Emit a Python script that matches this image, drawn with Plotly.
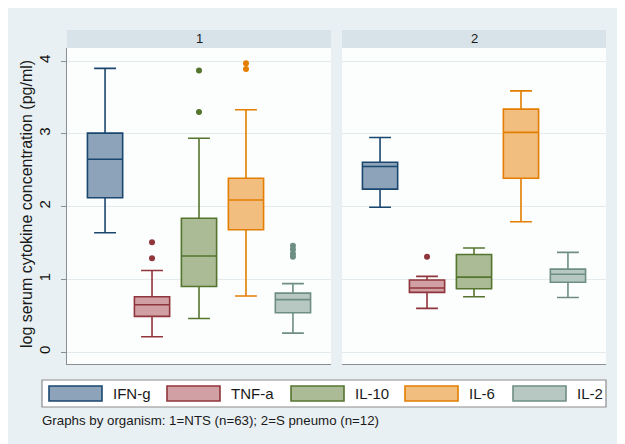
import plotly.graph_objects as go

# ---------------- data ----------------
cytokines = ["IFN-g", "TNF-a", "IL-10", "IL-6", "IL-2"]
panel_labels = ["1", "2"]
y_title = "log serum cytokine concentration (pg/ml)"
note_text = "Graphs by organism: 1=NTS (n=63); 2=S pneumo (n=12)"
y_ticks = [0, 1, 2, 3, 4]

# panel 1 : NTS
p1_lower = [1.64, 0.21, 0.46, 0.77, 0.26]
p1_q1 = [2.12, 0.49, 0.90, 1.68, 0.54]
p1_median = [2.65, 0.65, 1.32, 2.09, 0.72]
p1_q3 = [3.01, 0.76, 1.84, 2.39, 0.81]
p1_upper = [3.90, 1.12, 2.94, 3.33, 0.94]
p1_outliers = [[], [1.51, 1.29], [3.87, 3.30], [3.97, 3.89], [1.46, 1.41, 1.35, 1.31]]

# panel 2 : S pneumo
p2_lower = [1.99, 0.60, 0.76, 1.79, 0.75]
p2_q1 = [2.24, 0.82, 0.87, 2.39, 0.96]
p2_median = [2.55, 0.88, 1.03, 3.02, 1.07]
p2_q3 = [2.61, 0.99, 1.34, 3.34, 1.14]
p2_upper = [2.95, 1.04, 1.43, 3.59, 1.37]
p2_outliers = [[], [1.31], [], [], []]

# ---------------- style ----------------
line_colors = ["#1a476f", "#90353b", "#55752f", "#e37e00", "#6e8e84"]
fill_colors = ["#8ca3b9", "#d0a0a4", "#aabb96", "#f1be80", "#b7c8c2"]
BG = "#e9f0f3"
STRIP = "#d7e2e9"
GRID = "#e3ebee"
AXIS = "#8a8f93"
OFF = 8                     # page body margin
W, H = 625 - OFF, 444 - OFF


def px(x):
    return (x - OFF) / W


def py(y):
    return 1 - (y - OFF) / H


fig = go.Figure()

panels = [
    (p1_lower, p1_q1, p1_median, p1_q3, p1_upper, p1_outliers, "x", "y"),
    (p2_lower, p2_q1, p2_median, p2_q3, p2_upper, p2_outliers, "x2", "y2"),
]
for lo, q1, med, q3, up, outs, xa, ya in panels:
    for i, name in enumerate(cytokines):
        fig.add_trace(go.Box(
            x=[name], q1=[q1[i]], median=[med[i]], q3=[q3[i]],
            lowerfence=[lo[i]], upperfence=[up[i]],
            name=name, boxpoints=False, width=0.75, whiskerwidth=0.62,
            fillcolor=fill_colors[i], line=dict(color=line_colors[i], width=1.6),
            xaxis=xa, yaxis=ya, showlegend=False, hoverinfo="skip",
        ))
        if outs[i]:
            fig.add_trace(go.Scatter(
                x=[name] * len(outs[i]), y=outs[i], mode="markers",
                marker=dict(color=line_colors[i], size=6),
                xaxis=xa, yaxis=ya, showlegend=False, hoverinfo="skip",
            ))

# panel geometry (page pixels)
plot_top, plot_bot = 48, 364
p1_x0, p1_x1 = 67, 331
p2_x0, p2_x1 = 342, 606
y_range = [-0.165, 4.18]
x_range = [-0.81, 4.81]

common_x = dict(type="category", categoryorder="array", categoryarray=cytokines,
                range=x_range, showticklabels=False, ticks="", showgrid=False,
                zeroline=False, showline=True, linecolor=AXIS, linewidth=1.2,
                fixedrange=True)
fig.update_layout(
    width=W, height=H,
    margin=dict(l=0, r=0, t=0, b=0),
    paper_bgcolor=BG, plot_bgcolor="#fcfdfd",
    font=dict(family="Liberation Sans, Arial, sans-serif", color="#1a1a1a"),
    xaxis=dict(domain=[px(p1_x0), px(p1_x1)], anchor="y", **common_x),
    xaxis2=dict(domain=[px(p2_x0), px(p2_x1)], anchor="y2", **common_x),
    yaxis=dict(domain=[py(plot_bot), py(plot_top)], anchor="x", range=y_range,
               tickvals=y_ticks, tickangle=-90, ticks="outside", ticklen=5,
               tickcolor=AXIS, showline=True, linecolor=AXIS, linewidth=1.2,
               showgrid=True, gridcolor=GRID, gridwidth=1, zeroline=False,
               ticklabelstandoff=5,
               tickfont=dict(size=15, color="#111111")),
    yaxis2=dict(domain=[py(plot_bot), py(plot_top)], anchor="x2", range=y_range,
                tickvals=y_ticks, showticklabels=False, ticks="", showline=False,
                showgrid=True, gridcolor=GRID, gridwidth=1, zeroline=False),
    boxmode="overlay",
)

shapes = []
annotations = []
# strips
for (x0, x1), lab in zip([(p1_x0, p1_x1), (p2_x0, p2_x1)], panel_labels):
    shapes.append(dict(type="rect", xref="paper", yref="paper", x0=px(x0), x1=px(x1),
                       y0=py(plot_top), y1=py(30), fillcolor=STRIP, line=dict(width=0),
                       layer="below"))
    annotations.append(dict(text=lab, xref="paper", yref="paper", x=px((x0 + x1) / 2),
                            y=py(39), showarrow=False, xanchor="center", yanchor="middle",
                            font=dict(size=13, color="#1a1a1a")))

# legend box
shapes.append(dict(type="rect", xref="paper", yref="paper", x0=px(42), x1=px(606),
                   y0=py(407), y1=py(380), fillcolor="white",
                   line=dict(color="#8c8c8c", width=1.2), layer="below"))
key_left = [49, 167, 291, 405, 513]
for i, name in enumerate(cytokines):
    kx = key_left[i]
    shapes.append(dict(type="rect", xref="paper", yref="paper", x0=px(kx), x1=px(kx + 53),
                       y0=py(401), y1=py(386), fillcolor=fill_colors[i],
                       line=dict(color=line_colors[i], width=1.6)))
    annotations.append(dict(text=name, xref="paper", yref="paper", x=px(kx + 62), y=py(393.5),
                            showarrow=False, xanchor="left", yanchor="middle",
                            font=dict(size=15, color="#1a1a1a")))

# y title
annotations.append(dict(text=y_title, xref="paper", yref="paper", x=px(26), y=py(204),
                        showarrow=False, textangle=-90, xanchor="center", yanchor="middle",
                        font=dict(size=16, color="#1a1a1a")))
# note
annotations.append(dict(text=note_text, xref="paper", yref="paper", x=px(40), y=py(420),
                        showarrow=False, xanchor="left", yanchor="middle",
                        font=dict(size=13.3, color="#1a1a1a")))

fig.update_layout(shapes=shapes, annotations=annotations)
fig.write_html("out.html")
